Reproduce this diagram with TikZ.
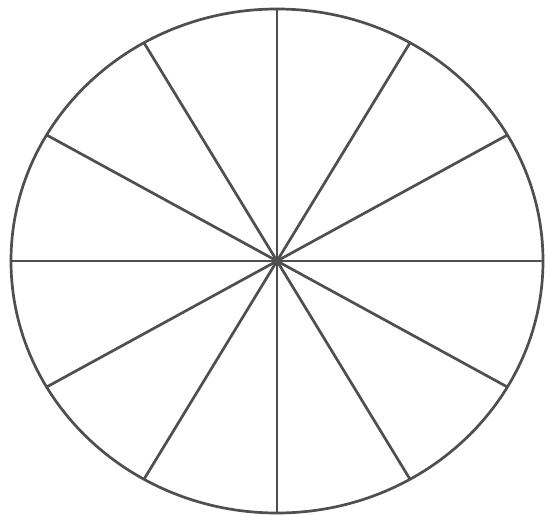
\documentclass[tikz,border=0pt]{standalone}
\usepackage{xcolor}
\usepackage{tikz}
\usetikzlibrary{calc}
\definecolor{wheelgray}{HTML}{4F4F4F}

\begin{document}
\begin{tikzpicture}[x=0.03cm, y=-0.03cm, rim/.style={line width=2.3pt, wheelgray}]
\useasboundingbox[fill=white] (0,0) rectangle (547,516);
\coordinate (hub) at (277,261);
\draw[rim] (hub) ellipse [x radius=266, y radius=252];
\foreach \a in {0,30,...,330}
  \draw[rim] (hub) -- ($(hub)+({266*cos(\a)},{-252*sin(\a)})$);
\fill[wheelgray] (hub) circle (4);
\end{tikzpicture}
\end{document}
